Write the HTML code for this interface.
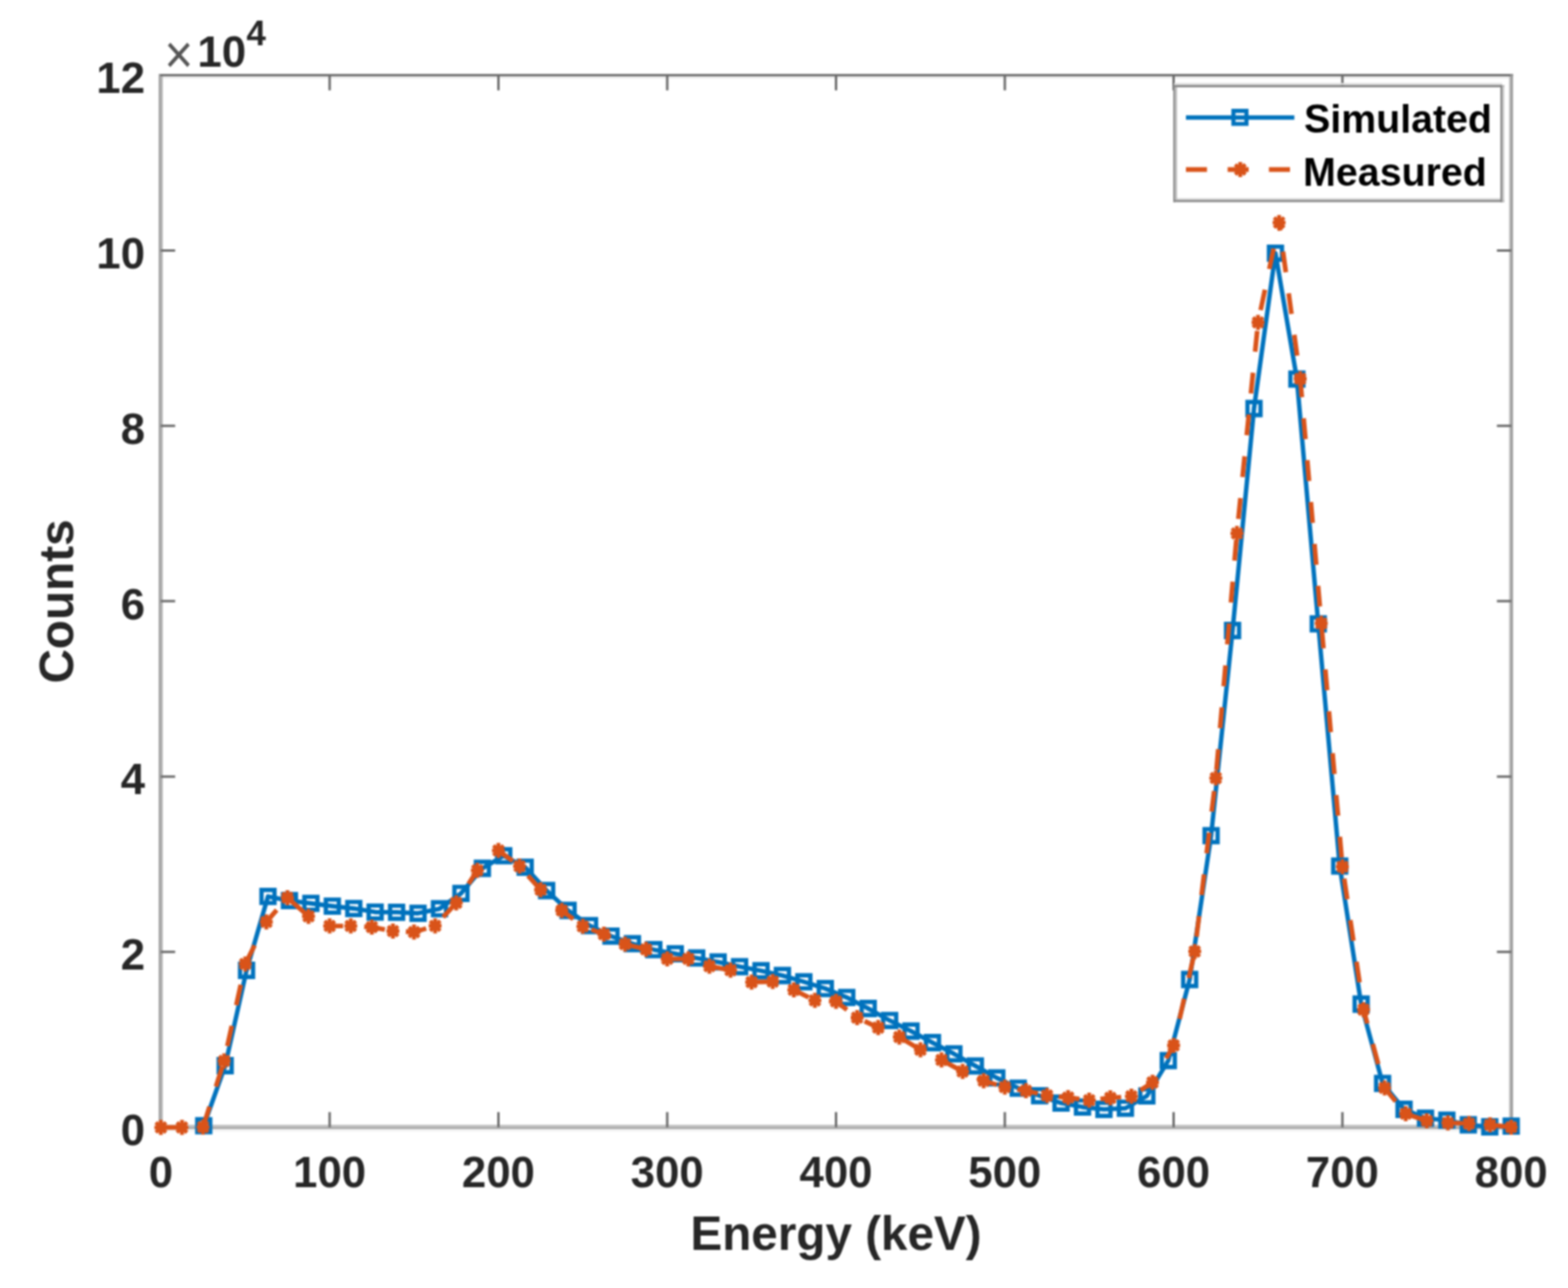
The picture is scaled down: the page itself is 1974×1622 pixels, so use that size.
<!DOCTYPE html><html><head><meta charset="utf-8"><title>Energy spectrum</title><style>
html,body{margin:0;padding:0;background:#fff;width:1974px;height:1622px;overflow:hidden}
svg{display:block;filter:blur(0.8px)}
.tk{font-family:"Liberation Sans",Arial,Helvetica,sans-serif;font-weight:bold;fill:#262626}
</style></head><body>
<svg width="1974" height="1622" viewBox="0 0 1974 1622">
<rect width="1974" height="1622" fill="#fff"/>
<g fill="none">
<line x1="200.0" y1="97.3" x2="1905.0" y2="97.3" stroke="#e8e8e8" stroke-width="2.7"/>
<line x1="200.0" y1="1423.6" x2="1905.0" y2="1423.6" stroke="#f3f3f3" stroke-width="2.8"/>
<line x1="200.0" y1="94.6" x2="1905.0" y2="94.6" stroke="#666" stroke-width="2.6"/>
<line x1="200.0" y1="1417.8" x2="1905.0" y2="1417.8" stroke="#c0c0c0" stroke-width="2.4"/>
<line x1="200.0" y1="1420.5" x2="1905.0" y2="1420.5" stroke="#a0a0a0" stroke-width="2.7"/>
<line x1="200.9" y1="93.3" x2="200.9" y2="1422.0" stroke="#9c9c9c" stroke-width="2.2"/>
<line x1="203.4" y1="96.0" x2="203.4" y2="1422.0" stroke="#b2b2b2" stroke-width="3"/>
<line x1="1900.8" y1="96.0" x2="1900.8" y2="1422.0" stroke="#bdbdbd" stroke-width="2"/>
<line x1="1903.2" y1="93.3" x2="1903.2" y2="1422.0" stroke="#999" stroke-width="3"/>
<path d="M415.0,1419.5v-19M415.0,94.7v19M627.5,1419.5v-19M627.5,94.7v19M840.0,1419.5v-19M840.0,94.7v19M1052.5,1419.5v-19M1052.5,94.7v19M1265.0,1419.5v-19M1265.0,94.7v19M1477.5,1419.5v-19M1477.5,94.7v19M1690.0,1419.5v-19M1690.0,94.7v19M202.5,1198.7h18M1902.5,1198.7h-18M202.5,977.9h18M1902.5,977.9h-18M202.5,757.1h18M1902.5,757.1h-18M202.5,536.3h18M1902.5,536.3h-18M202.5,315.5h18M1902.5,315.5h-18" stroke="#6a6a6a" stroke-width="3"/>
</g>
<g class="tk" font-size="55">
<text x="202.5" y="1494.6" text-anchor="middle">0</text>
<text x="415.0" y="1494.6" text-anchor="middle">100</text>
<text x="627.5" y="1494.6" text-anchor="middle">200</text>
<text x="840.0" y="1494.6" text-anchor="middle">300</text>
<text x="1052.5" y="1494.6" text-anchor="middle">400</text>
<text x="1265.0" y="1494.6" text-anchor="middle">500</text>
<text x="1477.5" y="1494.6" text-anchor="middle">600</text>
<text x="1690.0" y="1494.6" text-anchor="middle">700</text>
<text x="1902.5" y="1494.6" text-anchor="middle">800</text>
<text x="182.5" y="1442.0" text-anchor="end">0</text>
<text x="182.5" y="1221.2" text-anchor="end">2</text>
<text x="182.5" y="1000.4" text-anchor="end">4</text>
<text x="182.5" y="779.6" text-anchor="end">6</text>
<text x="182.5" y="558.8" text-anchor="end">8</text>
<text x="182.5" y="338.0" text-anchor="end">10</text>
<text x="182.5" y="117.2" text-anchor="end">12</text>
</g>
<text transform="translate(207.1,92) scale(1,1.1)" font-family="Liberation Sans,Arial,sans-serif" font-size="62" fill="#555">×</text>
<text class="tk" x="248.6" y="83.5" font-size="55">10</text>
<text class="tk" x="310.2" y="56.8" font-size="44">4</text>
<text class="tk" transform="translate(1052.5,1573.5) scale(0.975,1)" font-size="61.5" text-anchor="middle">Energy (keV)</text>
<text class="tk" transform="translate(92,757.5) rotate(-90) scale(0.975,1)" font-size="61.5" text-anchor="middle">Counts</text>
<g>
<polyline points="256.5,1417.7 283.5,1342.0 310.4,1222.0 337.4,1128.9 364.4,1134.2 391.4,1137.6 418.4,1141.1 445.4,1144.1 472.3,1148.6 499.3,1148.8 526.3,1150.1 553.3,1144.4 580.3,1125.1 607.3,1093.5 634.2,1077.7 661.2,1092.1 688.2,1121.5 715.2,1146.5 742.2,1165.6 769.2,1178.8 796.2,1188.4 823.1,1195.9 850.1,1201.1 877.1,1206.4 904.1,1211.4 931.1,1217.3 958.1,1222.5 985.0,1228.5 1012.0,1236.4 1039.0,1244.9 1066.0,1256.1 1093.0,1270.0 1120.0,1285.1 1146.9,1298.5 1173.9,1313.0 1200.9,1327.1 1227.9,1342.3 1254.9,1357.4 1281.9,1370.3 1308.8,1379.8 1335.8,1389.1 1362.8,1394.1 1389.8,1397.0 1416.8,1395.6 1443.8,1380.1 1470.8,1335.6 1497.7,1233.5 1524.7,1052.3 1551.7,794.0 1578.7,514.5 1605.7,318.8 1632.7,477.3 1659.6,785.7 1686.6,1090.7 1713.6,1264.5 1740.6,1364.3 1767.6,1397.0 1794.6,1408.2 1821.5,1410.7 1848.5,1416.5 1875.5,1419.0 1902.5,1418.2" fill="none" stroke="#0072BD" stroke-width="5.6" stroke-linejoin="round"/>
<path d="M248.3,1409.5h16.4v16.4h-16.4zM275.3,1333.8h16.4v16.4h-16.4zM302.2,1213.8h16.4v16.4h-16.4zM329.2,1120.7h16.4v16.4h-16.4zM356.2,1126.0h16.4v16.4h-16.4zM383.2,1129.4h16.4v16.4h-16.4zM410.2,1132.9h16.4v16.4h-16.4zM437.2,1135.9h16.4v16.4h-16.4zM464.1,1140.4h16.4v16.4h-16.4zM491.1,1140.6h16.4v16.4h-16.4zM518.1,1141.9h16.4v16.4h-16.4zM545.1,1136.2h16.4v16.4h-16.4zM572.1,1116.9h16.4v16.4h-16.4zM599.1,1085.3h16.4v16.4h-16.4zM626.0,1069.5h16.4v16.4h-16.4zM653.0,1083.9h16.4v16.4h-16.4zM680.0,1113.3h16.4v16.4h-16.4zM707.0,1138.3h16.4v16.4h-16.4zM734.0,1157.4h16.4v16.4h-16.4zM761.0,1170.6h16.4v16.4h-16.4zM788.0,1180.2h16.4v16.4h-16.4zM814.9,1187.7h16.4v16.4h-16.4zM841.9,1192.9h16.4v16.4h-16.4zM868.9,1198.2h16.4v16.4h-16.4zM895.9,1203.2h16.4v16.4h-16.4zM922.9,1209.1h16.4v16.4h-16.4zM949.9,1214.3h16.4v16.4h-16.4zM976.8,1220.3h16.4v16.4h-16.4zM1003.8,1228.2h16.4v16.4h-16.4zM1030.8,1236.7h16.4v16.4h-16.4zM1057.8,1247.9h16.4v16.4h-16.4zM1084.8,1261.8h16.4v16.4h-16.4zM1111.8,1276.9h16.4v16.4h-16.4zM1138.7,1290.3h16.4v16.4h-16.4zM1165.7,1304.8h16.4v16.4h-16.4zM1192.7,1318.9h16.4v16.4h-16.4zM1219.7,1334.1h16.4v16.4h-16.4zM1246.7,1349.2h16.4v16.4h-16.4zM1273.7,1362.1h16.4v16.4h-16.4zM1300.6,1371.6h16.4v16.4h-16.4zM1327.6,1380.9h16.4v16.4h-16.4zM1354.6,1385.9h16.4v16.4h-16.4zM1381.6,1388.8h16.4v16.4h-16.4zM1408.6,1387.4h16.4v16.4h-16.4zM1435.6,1371.9h16.4v16.4h-16.4zM1462.6,1327.4h16.4v16.4h-16.4zM1489.5,1225.3h16.4v16.4h-16.4zM1516.5,1044.1h16.4v16.4h-16.4zM1543.5,785.8h16.4v16.4h-16.4zM1570.5,506.3h16.4v16.4h-16.4zM1597.5,310.6h16.4v16.4h-16.4zM1624.5,469.1h16.4v16.4h-16.4zM1651.4,777.5h16.4v16.4h-16.4zM1678.4,1082.5h16.4v16.4h-16.4zM1705.4,1256.3h16.4v16.4h-16.4zM1732.4,1356.1h16.4v16.4h-16.4zM1759.4,1388.8h16.4v16.4h-16.4zM1786.4,1400.0h16.4v16.4h-16.4zM1813.3,1402.5h16.4v16.4h-16.4zM1840.3,1408.3h16.4v16.4h-16.4zM1867.3,1410.8h16.4v16.4h-16.4zM1894.3,1410.0h16.4v16.4h-16.4z" fill="none" stroke="#0072BD" stroke-width="5.4"/>
<polyline points="202.5,1419.8 229.1,1419.8 255.6,1419.3 282.2,1336.0 308.8,1213.9 335.3,1161.0 361.9,1130.5 388.4,1153.9 415.0,1166.1" fill="none" stroke="#D95319" stroke-width="5.9" stroke-dasharray="26.3 26.60" stroke-dashoffset="52.07"/>
<polyline points="415.0,1166.1 441.6,1166.1 468.1,1167.5 494.7,1172.5 521.2,1173.8 547.8,1165.9 574.4,1136.9 600.9,1096.1 627.5,1071.1 654.1,1090.8 680.6,1120.5 707.2,1146.5 733.8,1166.6 760.3,1176.5 786.9,1189.0 813.4,1195.6 840.0,1207.5 866.6,1207.5 893.1,1216.7 919.7,1221.8 946.2,1236.8 972.8,1236.1 999.4,1246.6 1025.9,1259.8 1052.5,1261.1 1079.1,1281.5 1105.6,1294.1 1132.2,1305.9 1158.8,1322.0 1185.3,1334.8 1211.9,1349.3 1238.4,1361.1 1265.0,1369.0 1291.6,1373.6 1318.1,1379.6 1344.7,1382.2 1371.2,1385.5 1397.8,1382.6 1424.4,1380.6 1450.9,1363.1 1477.5,1316.5 1504.1,1198.2 1530.6,979.8 1557.2,671.7 1583.8,406.0 1610.3,280.3" fill="none" stroke="#D95319" stroke-width="5.9" stroke-dasharray="26.3 26.60" stroke-dashoffset="9.36"/>
<polyline points="1610.3,280.3 1636.9,477.0 1663.4,785.0 1690.0,1091.5 1716.6,1271.4 1743.1,1370.0 1769.7,1402.5 1796.2,1411.5 1822.8,1414.0 1849.4,1414.9 1875.9,1416.5 1902.5,1419.5" fill="none" stroke="#D95319" stroke-width="5.9" stroke-dasharray="26.3 26.60" stroke-dashoffset="16.00"/>
<path d="M194.4,1419.8h16.2M202.5,1410.3v19.0M196.2,1413.5l12.7,12.7M196.2,1426.1l12.7,-12.7M221.0,1419.8h16.2M229.1,1410.3v19.0M222.7,1413.5l12.7,12.7M222.7,1426.1l12.7,-12.7M247.5,1419.3h16.2M255.6,1409.8v19.0M249.3,1413.0l12.7,12.7M249.3,1425.6l12.7,-12.7M274.1,1336.0h16.2M282.2,1326.5v19.0M275.9,1329.7l12.7,12.7M275.9,1342.3l12.7,-12.7M300.7,1213.9h16.2M308.8,1204.4v19.0M302.4,1207.6l12.7,12.7M302.4,1220.2l12.7,-12.7M327.2,1161.0h16.2M335.3,1151.5v19.0M329.0,1154.7l12.7,12.7M329.0,1167.3l12.7,-12.7M353.8,1130.5h16.2M361.9,1121.0v19.0M355.5,1124.2l12.7,12.7M355.5,1136.8l12.7,-12.7M380.3,1153.9h16.2M388.4,1144.4v19.0M382.1,1147.6l12.7,12.7M382.1,1160.2l12.7,-12.7M406.9,1166.1h16.2M415.0,1156.6v19.0M408.7,1159.8l12.7,12.7M408.7,1172.4l12.7,-12.7M433.5,1166.1h16.2M441.6,1156.6v19.0M435.2,1159.8l12.7,12.7M435.2,1172.4l12.7,-12.7M460.0,1167.5h16.2M468.1,1158.0v19.0M461.8,1161.2l12.7,12.7M461.8,1173.8l12.7,-12.7M486.6,1172.5h16.2M494.7,1163.0v19.0M488.4,1166.2l12.7,12.7M488.4,1178.8l12.7,-12.7M513.2,1173.8h16.2M521.2,1164.3v19.0M514.9,1167.5l12.7,12.7M514.9,1180.1l12.7,-12.7M539.7,1165.9h16.2M547.8,1156.4v19.0M541.5,1159.6l12.7,12.7M541.5,1172.2l12.7,-12.7M566.3,1136.9h16.2M574.4,1127.4v19.0M568.0,1130.6l12.7,12.7M568.0,1143.2l12.7,-12.7M592.8,1096.1h16.2M600.9,1086.6v19.0M594.6,1089.8l12.7,12.7M594.6,1102.4l12.7,-12.7M619.4,1071.1h16.2M627.5,1061.6v19.0M621.2,1064.8l12.7,12.7M621.2,1077.4l12.7,-12.7M646.0,1090.8h16.2M654.1,1081.3v19.0M647.7,1084.5l12.7,12.7M647.7,1097.1l12.7,-12.7M672.5,1120.5h16.2M680.6,1111.0v19.0M674.3,1114.2l12.7,12.7M674.3,1126.8l12.7,-12.7M699.1,1146.5h16.2M707.2,1137.0v19.0M700.9,1140.2l12.7,12.7M700.9,1152.8l12.7,-12.7M725.7,1166.6h16.2M733.8,1157.1v19.0M727.4,1160.3l12.7,12.7M727.4,1172.9l12.7,-12.7M752.2,1176.5h16.2M760.3,1167.0v19.0M754.0,1170.2l12.7,12.7M754.0,1182.8l12.7,-12.7M778.8,1189.0h16.2M786.9,1179.5v19.0M780.5,1182.7l12.7,12.7M780.5,1195.3l12.7,-12.7M805.3,1195.6h16.2M813.4,1186.1v19.0M807.1,1189.3l12.7,12.7M807.1,1201.9l12.7,-12.7M831.9,1207.5h16.2M840.0,1198.0v19.0M833.7,1201.2l12.7,12.7M833.7,1213.8l12.7,-12.7M858.5,1207.5h16.2M866.6,1198.0v19.0M860.2,1201.2l12.7,12.7M860.2,1213.8l12.7,-12.7M885.0,1216.7h16.2M893.1,1207.2v19.0M886.8,1210.4l12.7,12.7M886.8,1223.0l12.7,-12.7M911.6,1221.8h16.2M919.7,1212.3v19.0M913.4,1215.5l12.7,12.7M913.4,1228.1l12.7,-12.7M938.2,1236.8h16.2M946.2,1227.3v19.0M939.9,1230.5l12.7,12.7M939.9,1243.1l12.7,-12.7M964.7,1236.1h16.2M972.8,1226.6v19.0M966.5,1229.8l12.7,12.7M966.5,1242.4l12.7,-12.7M991.3,1246.6h16.2M999.4,1237.1v19.0M993.0,1240.3l12.7,12.7M993.0,1252.9l12.7,-12.7M1017.8,1259.8h16.2M1025.9,1250.3v19.0M1019.6,1253.5l12.7,12.7M1019.6,1266.1l12.7,-12.7M1044.4,1261.1h16.2M1052.5,1251.6v19.0M1046.2,1254.8l12.7,12.7M1046.2,1267.4l12.7,-12.7M1071.0,1281.5h16.2M1079.1,1272.0v19.0M1072.7,1275.2l12.7,12.7M1072.7,1287.8l12.7,-12.7M1097.5,1294.1h16.2M1105.6,1284.6v19.0M1099.3,1287.8l12.7,12.7M1099.3,1300.4l12.7,-12.7M1124.1,1305.9h16.2M1132.2,1296.4v19.0M1125.9,1299.6l12.7,12.7M1125.9,1312.2l12.7,-12.7M1150.7,1322.0h16.2M1158.8,1312.5v19.0M1152.4,1315.7l12.7,12.7M1152.4,1328.3l12.7,-12.7M1177.2,1334.8h16.2M1185.3,1325.3v19.0M1179.0,1328.5l12.7,12.7M1179.0,1341.1l12.7,-12.7M1203.8,1349.3h16.2M1211.9,1339.8v19.0M1205.5,1343.0l12.7,12.7M1205.5,1355.6l12.7,-12.7M1230.3,1361.1h16.2M1238.4,1351.6v19.0M1232.1,1354.8l12.7,12.7M1232.1,1367.4l12.7,-12.7M1256.9,1369.0h16.2M1265.0,1359.5v19.0M1258.7,1362.7l12.7,12.7M1258.7,1375.3l12.7,-12.7M1283.5,1373.6h16.2M1291.6,1364.1v19.0M1285.2,1367.3l12.7,12.7M1285.2,1379.9l12.7,-12.7M1310.0,1379.6h16.2M1318.1,1370.1v19.0M1311.8,1373.3l12.7,12.7M1311.8,1385.9l12.7,-12.7M1336.6,1382.2h16.2M1344.7,1372.7v19.0M1338.4,1375.9l12.7,12.7M1338.4,1388.5l12.7,-12.7M1363.2,1385.5h16.2M1371.2,1376.0v19.0M1364.9,1379.2l12.7,12.7M1364.9,1391.8l12.7,-12.7M1389.7,1382.6h16.2M1397.8,1373.1v19.0M1391.5,1376.3l12.7,12.7M1391.5,1388.9l12.7,-12.7M1416.3,1380.6h16.2M1424.4,1371.1v19.0M1418.0,1374.3l12.7,12.7M1418.0,1386.9l12.7,-12.7M1442.8,1363.1h16.2M1450.9,1353.6v19.0M1444.6,1356.8l12.7,12.7M1444.6,1369.4l12.7,-12.7M1469.4,1316.5h16.2M1477.5,1307.0v19.0M1471.2,1310.2l12.7,12.7M1471.2,1322.8l12.7,-12.7M1496.0,1198.2h16.2M1504.1,1188.7v19.0M1497.7,1191.9l12.7,12.7M1497.7,1204.5l12.7,-12.7M1522.5,979.8h16.2M1530.6,970.3v19.0M1524.3,973.5l12.7,12.7M1524.3,986.1l12.7,-12.7M1549.1,671.7h16.2M1557.2,662.2v19.0M1550.9,665.4l12.7,12.7M1550.9,678.0l12.7,-12.7M1575.7,406.0h16.2M1583.8,396.5v19.0M1577.4,399.7l12.7,12.7M1577.4,412.3l12.7,-12.7M1602.2,280.3h16.2M1610.3,270.8v19.0M1604.0,274.0l12.7,12.7M1604.0,286.6l12.7,-12.7M1628.8,477.0h16.2M1636.9,467.5v19.0M1630.5,470.7l12.7,12.7M1630.5,483.3l12.7,-12.7M1655.3,785.0h16.2M1663.4,775.5v19.0M1657.1,778.7l12.7,12.7M1657.1,791.3l12.7,-12.7M1681.9,1091.5h16.2M1690.0,1082.0v19.0M1683.7,1085.2l12.7,12.7M1683.7,1097.8l12.7,-12.7M1708.5,1271.4h16.2M1716.6,1261.9v19.0M1710.2,1265.1l12.7,12.7M1710.2,1277.7l12.7,-12.7M1735.0,1370.0h16.2M1743.1,1360.5v19.0M1736.8,1363.7l12.7,12.7M1736.8,1376.3l12.7,-12.7M1761.6,1402.5h16.2M1769.7,1393.0v19.0M1763.4,1396.2l12.7,12.7M1763.4,1408.8l12.7,-12.7M1788.2,1411.5h16.2M1796.2,1402.0v19.0M1789.9,1405.2l12.7,12.7M1789.9,1417.8l12.7,-12.7M1814.7,1414.0h16.2M1822.8,1404.5v19.0M1816.5,1407.7l12.7,12.7M1816.5,1420.3l12.7,-12.7M1841.3,1414.9h16.2M1849.4,1405.4v19.0M1843.0,1408.6l12.7,12.7M1843.0,1421.2l12.7,-12.7M1867.8,1416.5h16.2M1875.9,1407.0v19.0M1869.6,1410.2l12.7,12.7M1869.6,1422.8l12.7,-12.7M1894.4,1419.5h16.2M1902.5,1410.0v19.0M1896.2,1413.2l12.7,12.7M1896.2,1425.8l12.7,-12.7" fill="none" stroke="#D95319" stroke-width="4.8"/>
</g>
<rect x="1479.5" y="108.5" width="411.5" height="144.5" fill="#fff"/>
<g fill="none">
<line x1="1478" y1="105.7" x2="1891" y2="105.7" stroke="#ddd" stroke-width="2.6"/>
<line x1="1478" y1="250.7" x2="1891" y2="250.7" stroke="#ddd" stroke-width="2.4"/>
<line x1="1477" y1="108.5" x2="1893.8" y2="108.5" stroke="#787878" stroke-width="2.6"/>
<line x1="1477" y1="253.2" x2="1893.8" y2="253.2" stroke="#888" stroke-width="2.7"/>
<line x1="1478.2" y1="107.2" x2="1478.2" y2="254.6" stroke="#8a8a8a" stroke-width="2.4"/>
<line x1="1480.6" y1="109.8" x2="1480.6" y2="251.9" stroke="#b8b8b8" stroke-width="2.4"/>
<line x1="1890" y1="107.2" x2="1890" y2="254.6" stroke="#808080" stroke-width="2.2"/>
<line x1="1892.4" y1="107.2" x2="1892.4" y2="254.6" stroke="#c4c4c4" stroke-width="2.6"/>
</g>
<line x1="1493" y1="148" x2="1629.5" y2="148" stroke="#0072BD" stroke-width="5.6"/>
<path d="M1552.8,139.6h16.4v16.4h-16.4z" fill="none" stroke="#0072BD" stroke-width="5.2"/>
<path d="M1493,213.5h26.5M1545.5,213.5h26.5M1597.5,213.5h26.5" stroke="#D95319" stroke-width="5.8"/>
<path d="M1553.3,213.4h16.2M1561.4,203.9v19.0M1555.1,207.1l12.7,12.7M1555.1,219.7l12.7,-12.7" fill="none" stroke="#D95319" stroke-width="4.8"/>
<g font-family="Liberation Sans,Arial,sans-serif" font-weight="bold" font-size="49.5" fill="#000">
<text x="1641.8" y="167">Simulated</text>
<text x="1640.6" y="234.2">Measured</text>
</g>
</svg></body></html>
